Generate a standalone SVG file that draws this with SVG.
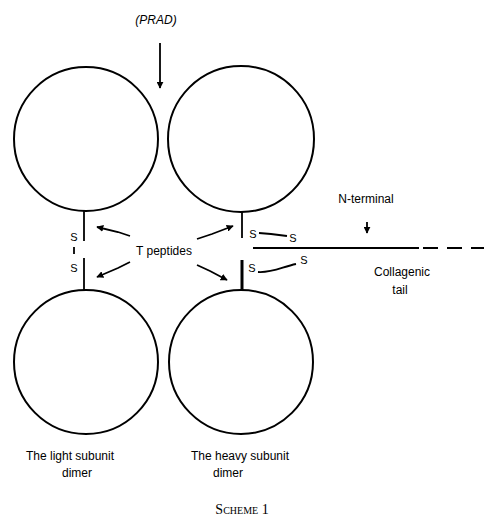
<svg xmlns="http://www.w3.org/2000/svg" width="484" height="519" viewBox="0 0 484 519">
<defs>
<style>
.c{fill:none;stroke:#000;stroke-width:2}
.l{fill:none;stroke:#000;stroke-width:1.8}
.t{font-family:"Liberation Sans",Arial,sans-serif;font-size:12px;fill:#000}
.s{font-family:"Liberation Sans",Arial,sans-serif;font-size:11px;fill:#000}
</style>
<marker id="ah" viewBox="0 0 10 10" refX="9" refY="5" markerWidth="7" markerHeight="7" markerUnits="userSpaceOnUse" orient="auto">
<path d="M0,0 L10,5 L0,10 z" fill="#000"/>
</marker>
</defs>
<rect width="484" height="519" fill="#fff"/>
<g id="subunit-tl"><circle class="c" cx="86" cy="139" r="72"/></g>
<g id="subunit-tr"><circle class="c" cx="241" cy="139" r="73"/></g>
<g id="subunit-bl"><circle class="c" cx="86" cy="362" r="72"/></g>
<g id="subunit-br"><circle class="c" cx="241" cy="362" r="72"/></g>
<g id="label-prad"><text class="t" x="156" y="24" text-anchor="middle" font-style="italic">(PRAD)</text></g>
<g id="label-tpep"><text class="t" x="164" y="255" text-anchor="middle" font-size="13">T peptides</text></g>
<g id="label-nterm"><text class="t" x="366" y="203" text-anchor="middle">N-terminal</text></g>
<g id="label-tail"><text class="t" x="402" y="276" text-anchor="middle">Collagenic</text><text class="t" x="400" y="294" text-anchor="middle">tail</text></g>
<g id="label-light"><text class="t" x="70" y="460" text-anchor="middle">The light subunit</text><text class="t" x="77" y="477" text-anchor="middle">dimer</text></g>
<g id="label-heavy"><text class="t" x="240" y="460" text-anchor="middle">The heavy subunit</text><text class="t" x="228" y="477" text-anchor="middle">dimer</text></g>
<g id="s-labels">
<text class="s" x="74" y="241" text-anchor="middle">S</text>
<text class="s" x="74" y="272" text-anchor="middle">S</text>
<text class="s" x="253" y="238" text-anchor="middle">S</text>
<text class="s" x="293" y="242" text-anchor="middle">S</text>
<text class="s" x="252" y="272" text-anchor="middle">S</text>
<text class="s" x="304" y="264" text-anchor="middle">S</text>
</g>
<g id="connectors">
<line class="l" x1="84" y1="211" x2="84" y2="241"/>
<line class="l" x1="84" y1="258" x2="84" y2="290"/>
<line class="l" x1="74" y1="247" x2="74" y2="254"/>
<line class="l" x1="242" y1="211" x2="242" y2="238"/>
<line x1="242" y1="260" x2="242" y2="290" stroke="#000" stroke-width="3"/>
<path class="l" d="M259,233 L271,234 L287,236"/>
<path class="l" d="M258,272 C272,273 282,267 296,264"/>
<line class="l" x1="253" y1="248" x2="419" y2="248"/>
<line class="l" x1="423" y1="248" x2="484" y2="248" stroke-dasharray="15,9"/>
<line class="l" x1="160" y1="43" x2="160" y2="88" marker-end="url(#ah)"/>
<line class="l" x1="367" y1="222" x2="367" y2="233" marker-end="url(#ah)"/>
<path class="l" d="M130,236 L118,232 L97,227" marker-end="url(#ah)"/>
<path class="l" d="M130,262 L118,268 L97,277" marker-end="url(#ah)"/>
<path class="l" d="M197,239 L212,234 L233,226" marker-end="url(#ah)"/>
<path class="l" d="M197,265 L210,271 L227,280" marker-end="url(#ah)"/>
</g>
<g id="caption"><text x="242" y="514" text-anchor="middle" font-family="Liberation Serif, Times New Roman, serif" font-size="14" style="font-variant:small-caps">Scheme 1</text></g>
</svg>
